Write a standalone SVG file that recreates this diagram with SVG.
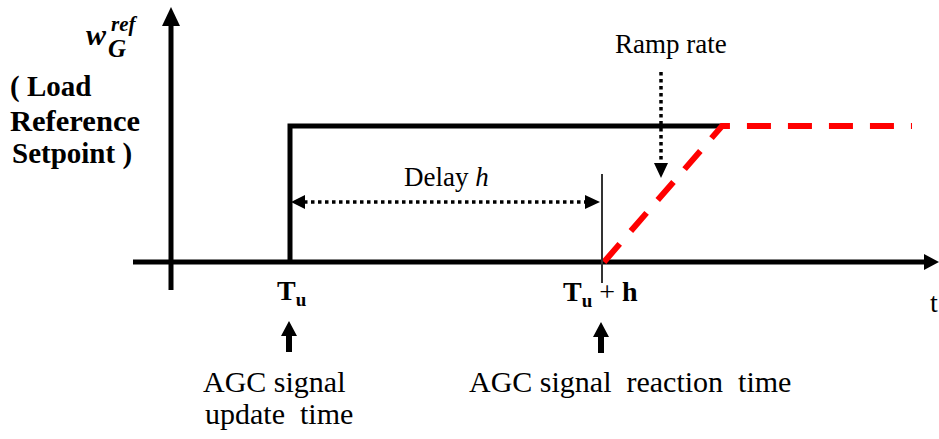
<svg xmlns="http://www.w3.org/2000/svg" width="939" height="439" viewBox="0 0 939 439">
<style>
text{font-family:'Liberation Serif','Times New Roman',serif;fill:#000}
.b{font-weight:bold}
.bi{font-weight:bold;font-style:italic}
.ax{stroke:#000;stroke-width:5;fill:none}
.dot{stroke:#000;stroke-width:3.5;stroke-dasharray:3.5 3.5;fill:none}
.red{stroke:#ff0000;stroke-width:6;stroke-dasharray:24 17;fill:none}
</style>
<rect width="939" height="439" fill="#fff"/>
<g id="axes">
<line class="ax" x1="171" y1="290" x2="171" y2="22"/>
<polygon points="171,7 162,26 180,26" fill="#000"/>
<line class="ax" x1="133" y1="262" x2="926" y2="262"/>
<polygon points="939,262 924,254 924,270" fill="#000"/>
</g>
<g id="y-label">
<text class="bi" font-size="30" x="86" y="45">w</text>
<text class="bi" font-size="21" x="111" y="31">ref</text>
<text class="bi" font-size="25" x="108" y="57">G</text>
<text class="b" font-size="29" x="10" y="96">( Load</text>
<text class="b" font-size="29" x="10" y="131" textLength="130" lengthAdjust="spacingAndGlyphs">Reference</text>
<text class="b" font-size="29" x="12" y="163">Setpoint )</text>
</g>
<g id="x-label">
<text font-size="28" x="930" y="312">t</text>
</g>
<g id="setpoint-step">
<polyline class="ax" points="290,262 290,126 722,126"/>
</g>
<g id="ramp">
<polyline class="red" points="604,262 722,126 912,126"/>
</g>
<g id="reaction-line">
<line x1="602" y1="174" x2="602" y2="283" stroke="#333" stroke-width="2"/>
</g>
<g id="connectors">
<line class="dot" x1="304" y1="202" x2="585" y2="202"/>
<polygon points="291,202 305,195 305,209" fill="#000"/>
<polygon points="600,202 585,195 585,209" fill="#000"/>
<line class="dot" x1="661" y1="72" x2="661" y2="164"/>
<polygon points="661,178 654,163 668,163" fill="#000"/>
<polygon points="289,321 281,336 286,336 286,352 292,352 292,336 297,336" fill="#000"/>
<polygon points="601,322 593,337 598,337 598,353 604,353 604,337 609,337" fill="#000"/>
</g>
<g id="delay-label">
<text font-size="27" x="404" y="186">Delay <tspan font-style="italic">h</tspan></text>
</g>
<g id="ramp-label">
<text font-size="27" x="615" y="53">Ramp rate</text>
</g>
<g id="tu-label">
<text class="b" font-size="28" x="277" y="300">T<tspan font-size="19" dy="6">u</tspan></text>
</g>
<g id="tuh-label">
<text class="b" font-size="28" x="563" y="301">T<tspan font-size="19" dy="6">u</tspan><tspan dy="-6" font-weight="normal"> + </tspan>h</text>
</g>
<g id="update-label">
<text font-size="30" x="203" y="392">AGC signal</text>
<text font-size="30" x="205" y="424">update&#160; time</text>
</g>
<g id="reaction-label">
<text font-size="30" x="469" y="392">AGC signal&#160; reaction&#160; time</text>
</g>
</svg>
